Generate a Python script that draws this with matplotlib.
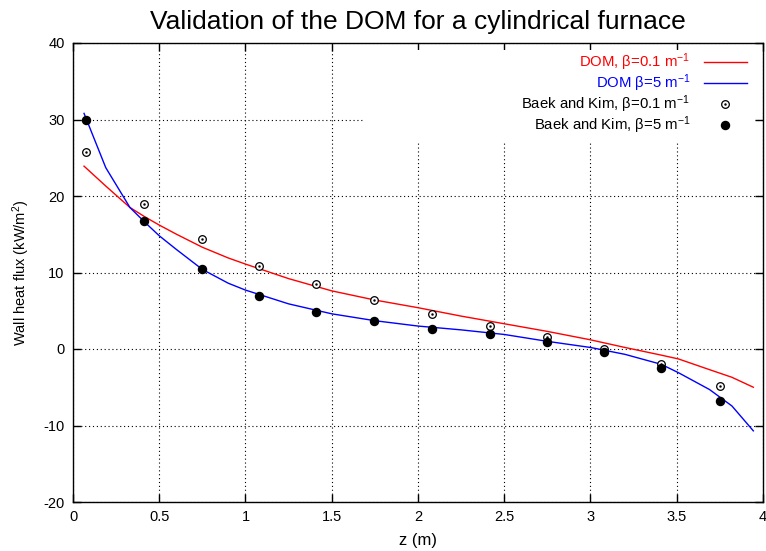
import matplotlib
matplotlib.use("Agg")
import matplotlib.pyplot as plt
from matplotlib.patches import Rectangle

plt.rcParams['font.family'] = ['Liberation Sans', 'DejaVu Sans']
plt.rcParams['mathtext.fontset'] = 'custom'
plt.rcParams['mathtext.rm'] = 'Liberation Sans'
plt.rcParams['mathtext.it'] = 'Liberation Sans'
plt.rcParams['axes.unicode_minus'] = False

# DOM results (line curves)
z_dom = [0.064, 0.19, 0.33, 0.415, 0.5, 0.6, 0.75, 0.9, 1.0, 1.25, 1.5, 1.75,
         2.0, 2.25, 2.5, 2.75, 3.0, 3.2, 3.41, 3.51, 3.69, 3.82, 3.944]
q_dom_01 = [23.9, 21.3, 18.5, 17.3, 16.2, 15.0, 13.3, 11.9, 11.1, 9.2, 7.6, 6.4,
            5.4, 4.3, 3.3, 2.3, 1.2, 0.2, -0.8, -1.3, -2.7, -3.7, -5.0]
q_dom_5 = [30.8, 23.7, 18.5, 16.6, 14.8, 13.0, 10.4, 8.6, 7.7, 5.9, 4.6, 3.7,
           3.0, 2.5, 1.9, 1.0, 0.2, -0.7, -2.0, -3.1, -5.3, -7.45, -10.7]

# Reference data of Baek and Kim (markers)
z_bk = [0.075, 0.41, 0.746, 1.077, 1.41, 1.747, 2.08, 2.42, 2.75, 3.08, 3.41, 3.75]
q_bk_01 = [25.8, 18.9, 14.4, 10.9, 8.45, 6.35, 4.6, 3.0, 1.57, -0.05, -2.0, -4.9]
q_bk_5 = [30.0, 16.7, 10.4, 6.95, 4.87, 3.6, 2.65, 1.95, 0.95, -0.35, -2.5, -6.8]

x_ticks = [0, 0.5, 1, 1.5, 2, 2.5, 3, 3.5, 4]
x_tick_labels = ['0', '0.5', '1', '1.5', '2', '2.5', '3', '3.5', '4']
y_ticks = [-20, -10, 0, 10, 20, 30, 40]

fig = plt.figure(figsize=(7.66, 5.51), dpi=100)
ax = fig.add_axes([73/766, 1 - 502/551, 690/766, 459/551])

ax.set_xlim(0, 4)
ax.set_ylim(-20, 40)
ax.set_xticks(x_ticks)
ax.set_xticklabels(x_tick_labels)
ax.set_yticks(y_ticks)
ax.set_axisbelow(True)
ax.grid(True, color='black', linestyle=(0, (1, 2.5)), linewidth=0.8)
ax.tick_params(direction='in', length=6, width=1, top=True, right=True,
               labelsize=10.5, pad=6)
for s in ax.spines.values():
    s.set_linewidth(1)

# blank area behind the key
ax.add_patch(Rectangle((0.4203, 0.783), 0.988 - 0.4203, 0.985 - 0.783,
                       transform=ax.transAxes, facecolor='white',
                       edgecolor='none', zorder=1))

l1, = ax.plot(z_dom, q_dom_01, color='#ff0000', lw=1, zorder=3)
l2, = ax.plot(z_dom, q_dom_5, color='#0000ff', lw=1, zorder=3)
m1a, = ax.plot(z_bk, q_bk_01, linestyle='none', marker='o', ms=5.5,
               mfc='white', mec='black', mew=0.9, zorder=4)
m1b, = ax.plot(z_bk, q_bk_01, linestyle='none', marker='o', ms=1.4,
               mfc='black', mec='black', mew=0.3, zorder=5)
m2, = ax.plot(z_bk, q_bk_5, linestyle='none', marker='o', ms=5.8,
              mfc='black', mec='black', zorder=4)

leg = ax.legend([l1, l2, (m1a, m1b), m2],
                [r'DOM, β=0.1 m$^{-1}$', r'DOM β=5 m$^{-1}$',
                 r'Baek and Kim, β=0.1 m$^{-1}$', r'Baek and Kim, β=5 m$^{-1}$'],
                loc='upper right', bbox_to_anchor=(0.985, 0.995),
                frameon=False, markerfirst=False, fontsize=10.7,
                handlelength=2.9, handletextpad=0.9, labelspacing=-0.03,
                borderaxespad=0.0, borderpad=0.4)
leg.set_zorder(6)
for t, c in zip(leg.get_texts(), ['#ff0000', '#0000ff', 'black', 'black']):
    t.set_color(c)

ax.set_title('Validation of the DOM for a cylindrical furnace', fontsize=19, pad=10)
ax.set_xlabel('z (m)', fontsize=12, labelpad=6)
ax.set_ylabel(r'Wall heat flux (kW/m$^2$)', fontsize=10.5, labelpad=8)

fig.savefig('out.png', dpi=100)
